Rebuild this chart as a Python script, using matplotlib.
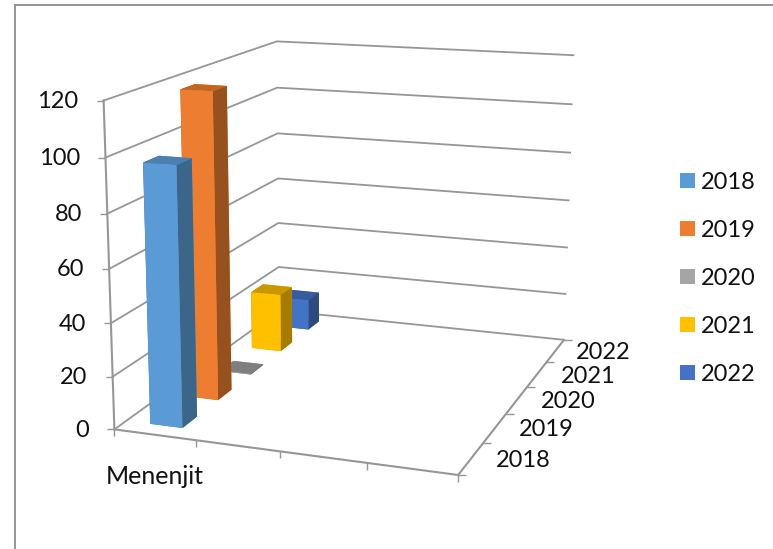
import numpy as np
import matplotlib
matplotlib.use("Agg")
import matplotlib.pyplot as plt
from matplotlib.lines import Line2D
from matplotlib.patches import Patch
from matplotlib.transforms import Affine2D

years = ["2018", "2019", "2020", "2021", "2022"]
cases = [97, 118, 0.3, 24, 13]
category = "Menenjit"
z_ticks = [0, 20, 40, 60, 80, 100, 120]
n_categories = 4

front_colors = ["#5B9BD5", "#ED7D31", "#A5A5A5", "#FFC000", "#4472C4"]
side_colors = ["#3B6689", "#97511F", "#6A6A6A", "#A67C00", "#2C4A80"]
top_colors = ["#4A7FAF", "#C2661F", "#7F7F7F", "#C99700", "#365C9E"]

W, H = 773, 549
GRID = "#969696"
FONT = "Lato"
FS = 17

fig = plt.figure(figsize=(W / 100, H / 100), dpi=100, facecolor="white")
ax = fig.add_axes([0, 0, 1, 1], projection="3d")
ax.apply_aspect = lambda position=None: None
ax.set_proj_type("ortho")  # keeps points outside the unit view box from being dropped
ax.set_axis_off()
ax.computed_zorder = False

# Camera calibration: box coordinates and where they land on the canvas.
box = []
canvas = []
for z, left_y, right_x, right_y in zip(
    z_ticks,
    [312, 267, 222, 178, 133, 87, 42],
    [562, 565, 567, 569, 570, 571, 573],
    [340, 295, 249, 201, 153, 103, 55],
):
    box += [(0, 5, z), (4, 5, z)]
    canvas += [(278, left_y), (right_x, right_y)]
for z, px, py in zip(
    z_ticks,
    [115, 113, 111, 109, 107, 106, 102],
    [428, 376, 323, 269, 214, 158, 101],
):
    box.append((0, 0, z))
    canvas.append((px, py))
for x, px, py in [(1, 196, 441), (2, 280, 452), (3, 367, 464), (4, 457, 475)]:
    box.append((x, 0, 0))
    canvas.append((px, py))
for y, px, py in [(1, 483, 442), (2, 507, 413), (3, 530, 386), (4, 548, 361)]:
    box.append((4, y, 0))
    canvas.append((px, py))

rows = []
for (x, y, z), (u, v) in zip(box, canvas):
    rows.append([x, y, z, 1, 0, 0, 0, 0, -u * x, -u * y, -u * z, -u])
    rows.append([0, 0, 0, 0, x, y, z, 1, -v * x, -v * y, -v * z, -v])
camera = np.linalg.svd(np.array(rows, float))[2][-1].reshape(3, 4)
camera /= camera[2] @ np.array([0, 0, 0, 1.0])


def project(x, y, z):
    u, v, w = camera @ np.array([x, y, z, 1.0])
    return u / w, v / w


to_canvas = Affine2D().scale(1 / W, -1 / H).translate(0, 1) + fig.transFigure


def canvas_line(x0, y0, x1, y1, color=GRID, lw=1.0):
    fig.add_artist(Line2D([x0, x1], [y0, y1], color=color, lw=lw,
                          transform=to_canvas, solid_capstyle="butt"))


def canvas_text(x, y, s, ha="center", size=FS):
    fig.text(x, y, s, transform=to_canvas, ha=ha, va="center",
             family=FONT, fontsize=size, color="#111111")


# Walls and floor.
for z in z_ticks:
    ax.plot([0, 0, n_categories], [0, 5, 5], [z, z, z], color=GRID, lw=1.3,
            zorder=1)
ax.plot([0, 0], [0, 0], [0, 120], color=GRID, lw=1.5, zorder=1)
ax.plot([0, 4, 4], [0, 0, 5], [0, 0, 0], color=GRID, lw=1.5, zorder=1)

# One bar per year, back to front.
for i in reversed(range(len(years))):
    faces = [top_colors[i], top_colors[i], front_colors[i],
             front_colors[i], side_colors[i], side_colors[i]]
    ax.bar3d(0.3, i + 0.3, 0, 0.4, 0.4, cases[i], color=faces, shade=False,
             zorder=10 + len(years) - i)

ax.set_xlim(0, n_categories)
ax.set_ylim(0, 5)
ax.set_zlim(0, 120)
ax.set_zticks(z_ticks)
ax.set_yticks(np.arange(len(years)) + 0.5, years)
ax.set_xticks([0.5], [category])

# Ticks and their labels follow the projected axes.
for z in z_ticks:
    px, py = project(0, 0, z)
    canvas_line(px - 7, py, px, py)
    canvas_text(px - 25, py + 1, str(z), ha="right")
for x in range(n_categories + 1):
    px, py = project(x, 0, 0)
    canvas_line(px, py, px, py + 7)
for y in range(6):
    px, py = project(4, y, 0)
    canvas_line(px, py, px + 8, py)
depth_label_offsets = [52, 51, 51, 51, 48]
for i, label in enumerate(years):
    px, py = project(4, i + 0.5, 0)
    canvas_text(px + depth_label_offsets[i], py + 2, label)
canvas_text(155, 476, category, size=18)

# Picture frame on the top and left.
canvas_line(14.5, 4.5, W, 4.5, color="#8C8C8C", lw=1.3)
canvas_line(14.5, 4, 14.5, H, color="#8C8C8C", lw=1.3)

fig.legend(
    handles=[Patch(facecolor=c, label=y) for c, y in zip(front_colors, years)],
    loc="upper left",
    bbox_to_anchor=(680 / W, 1 - 172 / H),
    borderaxespad=0,
    borderpad=0,
    frameon=False,
    prop={"family": FONT, "size": FS},
    handlelength=0.635,
    handleheight=0.635,
    handletextpad=0.25,
    labelspacing=1.14,
    labelcolor="#111111",
)

# The fixed camera is expressed in the axes' own view coordinates.
display_to_view = ax.transData.inverted().get_matrix()
flip = np.array([[1, 0, 0], [0, -1, H], [0, 0, 1.0]])
view = display_to_view @ flip @ camera
depth = np.array([-0.1, 1.0, -0.001, 0.0])
M = np.vstack([view[0], view[1], depth, view[2]])
ax.get_proj = lambda: M

fig.savefig("out.png", dpi=100, facecolor="white")
